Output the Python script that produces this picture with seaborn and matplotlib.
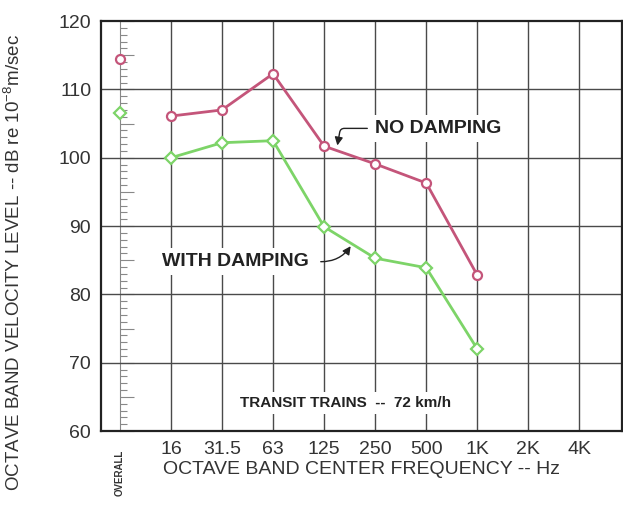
import numpy as np
import pandas as pd
import matplotlib
matplotlib.use("Agg")
import matplotlib.pyplot as plt
import seaborn as sns
from matplotlib.ticker import MultipleLocator, NullFormatter

# --- data ---
bands = ["16", "31.5", "63", "125", "250", "500", "1K", "2K", "4K"]
no_damping = [106.1, 107.0, 112.3, 101.7, 99.1, 96.3, 82.8]
with_damping = [100.0, 102.2, 102.5, 89.9, 85.3, 83.9, 72.0]
overall_no = 114.5
overall_with = 106.6

PINK = "#c4557a"
GREEN = "#7dd468"
GRID = "#4a4a4a"

sns.set_theme(style="white")
plt.rcParams["font.family"] = ["Liberation Sans", "DejaVu Sans"]

df = pd.DataFrame({
    "pos": list(range(1, len(no_damping) + 1)) * 2,
    "level": no_damping + with_damping,
    "case": ["NO DAMPING"] * len(no_damping) + ["WITH DAMPING"] * len(with_damping),
})

fig = plt.figure(figsize=(6.23, 5.15), dpi=100)
ax = fig.add_axes([0.162, 0.163, 0.837, 0.796])

# grid
ax.set_xlim(-0.37, 9.84)
ax.set_ylim(60, 120)
for i in range(1, len(bands) + 1):
    ax.axvline(i, color=GRID, lw=1.0, zorder=1)
for v in range(70, 120, 10):
    ax.axhline(v, color=GRID, lw=1.0, zorder=1)

sns.lineplot(data=df, x="pos", y="level", hue="case", style="case",
             palette={"NO DAMPING": PINK, "WITH DAMPING": GREEN},
             markers={"NO DAMPING": "o", "WITH DAMPING": "D"},
             dashes=False, lw=2.0, markersize=6.5, markerfacecolor="white",
             markeredgewidth=1.6, legend=False, ax=ax, zorder=3)
for line, c in zip(ax.lines[-2:], [PINK, GREEN]):
    line.set_markerfacecolor("white")
    line.set_markeredgecolor(c)

# overall column values
ax.plot([0], [overall_no], marker="o", ms=6.5, mfc="white", mec=PINK, mew=1.6, ls="none", zorder=4)
ax.plot([0], [overall_with], marker="D", ms=6, mfc="white", mec=GREEN, mew=1.6, ls="none", zorder=4)

# ruler scale in the overall column
ruler = ax.secondary_yaxis(0.037)
ruler.spines["left"].set_color("#888888")
ruler.spines["left"].set_linewidth(0.8)
ruler.yaxis.set_major_locator(MultipleLocator(5))
ruler.yaxis.set_minor_locator(MultipleLocator(1))
ruler.yaxis.set_major_formatter(NullFormatter())
ruler.tick_params(axis="y", which="major", direction="in", length=10, width=0.8, color="#888888")
ruler.tick_params(axis="y", which="minor", direction="in", length=5, width=0.8, color="#888888")

# axes ticks & labels
ax.set_yticks(range(60, 121, 10))
ax.set_yticklabels([str(v) for v in range(60, 121, 10)], fontsize=14, color="#333333")
ax.set_xticks(range(1, len(bands) + 1))
ax.set_xticklabels(bands, fontsize=14, color="#333333")
ax.tick_params(axis="both", length=0, pad=7)
ax.tick_params(axis="x", pad=7)
ax.set_xlabel("OCTAVE BAND CENTER FREQUENCY -- Hz", fontsize=14, color="#333333", labelpad=2)
ax.set_ylabel(r"OCTAVE BAND VELOCITY LEVEL -- dB re 10$^{\mathregular{-8}}$m/sec",
              fontsize=13.5, color="#333333")
ax.yaxis.set_label_coords(-0.148, 0.41)
ax.text(0, 57.2, "OVERALL", rotation=90, ha="center", va="top", fontsize=7,
        fontweight="bold", color="#333333", fontstretch="condensed")

for s in ax.spines.values():
    s.set_color("#222222")
    s.set_linewidth(1.6)

# annotations
box = dict(boxstyle="square,pad=0.25", fc="white", ec="none")
ax.text(5.0, 104.3, "NO DAMPING", fontsize=14, fontweight="bold", color="#222222",
        ha="left", va="center", bbox=box, zorder=5)
ax.annotate("", xy=(4.25, 101.4), xytext=(4.9, 104.3),
            arrowprops=dict(arrowstyle="-|>", color="#222222", lw=1.0,
                            connectionstyle="angle,angleA=0,angleB=80,rad=4"), zorder=5)
ax.text(0.83, 84.8, "WITH DAMPING", fontsize=14, fontweight="bold", color="#222222",
        ha="left", va="center", bbox=box, zorder=5)
ax.annotate("", xy=(4.55, 87.4), xytext=(3.88, 84.8),
            arrowprops=dict(arrowstyle="-|>", color="#222222", lw=1.0,
                            connectionstyle="arc3,rad=0.3"), zorder=5)
ax.text(2.35, 64.1, "TRANSIT TRAINS  --  72 km/h", fontsize=11, fontweight="bold",
        color="#222222", ha="left", va="center", fontstretch="condensed", bbox=box, zorder=5)

fig.savefig("out.png", dpi=100)
